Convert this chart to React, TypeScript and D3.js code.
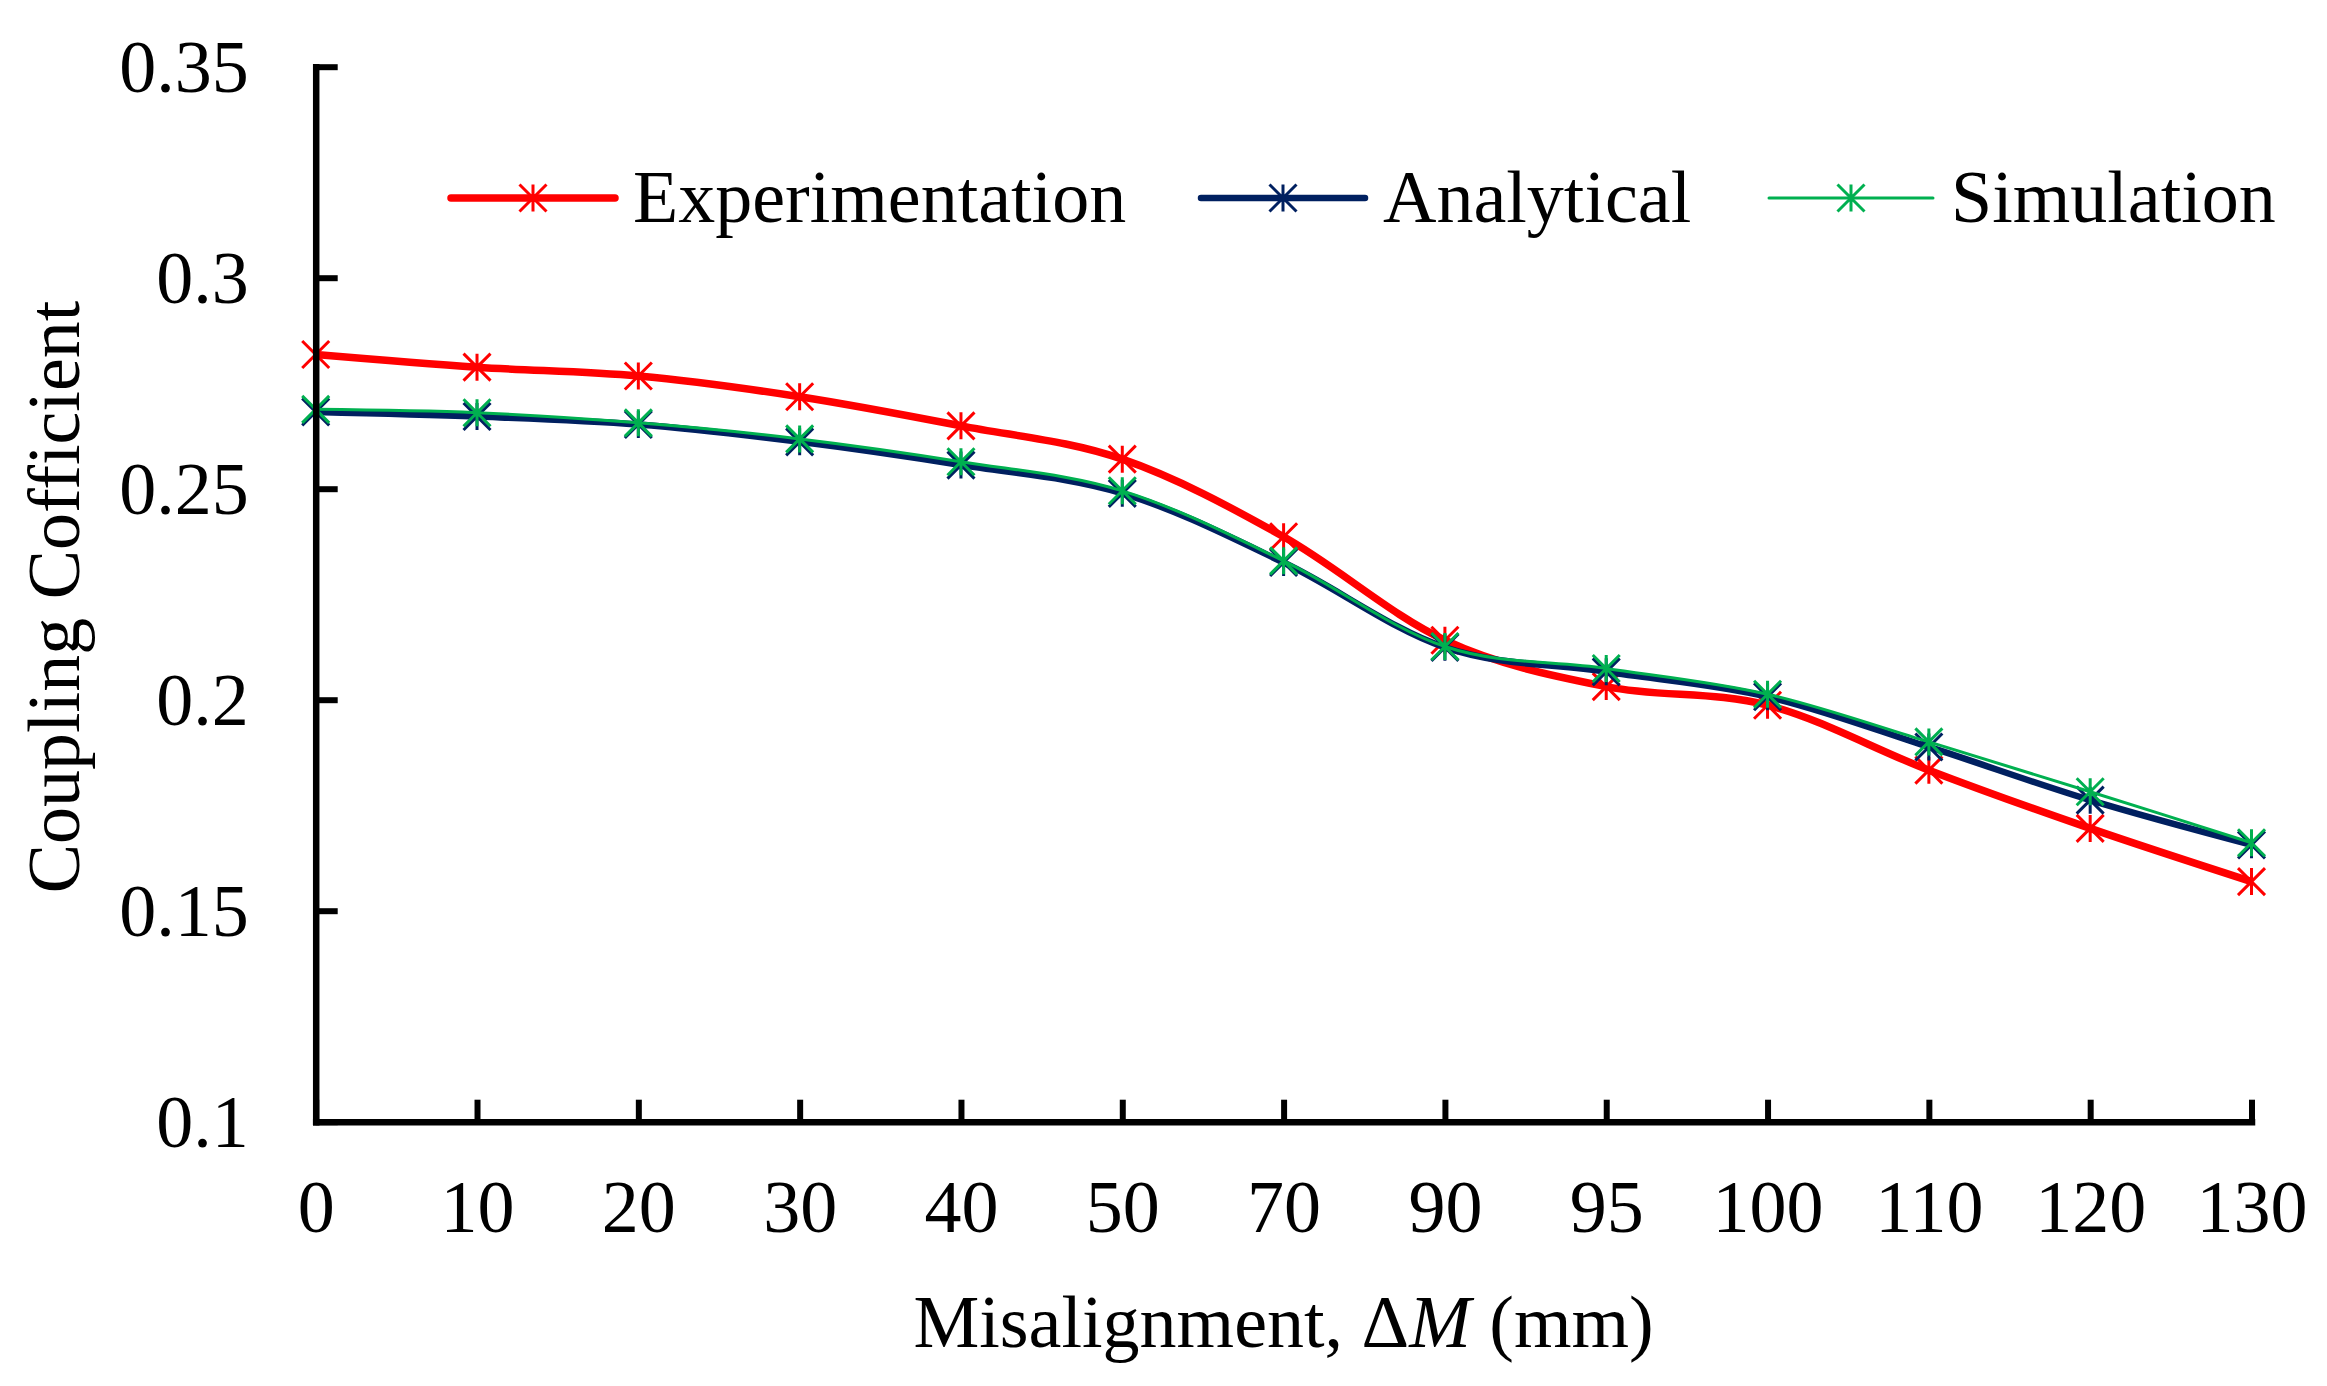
import { useEffect, useRef } from 'react'
import { axisBottom, axisLeft, curveCardinal, line, scaleLinear, scalePoint, select } from 'd3'

const categories = ['0', '10', '20', '30', '40', '50', '70', '90', '95', '100', '110', '120', '130']

const experimentation = [
  0.2818, 0.2788, 0.2767, 0.2718, 0.2649, 0.257, 0.2386, 0.2141, 0.2031, 0.1987, 0.1833, 0.1695, 0.1569,
]
const analytical = [
  0.2682, 0.2671, 0.2652, 0.2611, 0.2556, 0.2489, 0.2325, 0.2124, 0.2066, 0.2007, 0.1888, 0.1762, 0.1656,
]
const simulation = [
  0.2688, 0.268, 0.2656, 0.2618, 0.2564, 0.2495, 0.2329, 0.2126, 0.2074, 0.2013, 0.19, 0.1782, 0.1661,
]

const yTicks = [0.1, 0.15, 0.2, 0.25, 0.3, 0.35]
const yTickLabels = ['0.1', '0.15', '0.2', '0.25', '0.3', '0.35']

type Series = {
  name: string
  values: number[]
  color: string
  width: number
  legendX: number
}

const series: Series[] = [
  { name: 'Experimentation', values: experimentation, color: '#ff0000', width: 7.5, legendX: 451 },
  { name: 'Analytical', values: analytical, color: '#002060', width: 6.5, legendX: 1201 },
  { name: 'Simulation', values: simulation, color: '#00b050', width: 3, legendX: 1769 },
]

const width = 2327
const height = 1386
const font = '"Liberation Serif", "Times New Roman", serif'
const fontSize = 74
const markerHalf = 13.5

function Star({ x, y, color }: { x: number; y: number; color: string }) {
  const h = markerHalf
  return (
    <path
      d={`M${x},${y - h}V${y + h}M${x - h},${y - h}L${x + h},${y + h}M${x - h},${y + h}L${x + h},${y - h}`}
      stroke={color}
      strokeWidth={3}
      fill="none"
    />
  )
}

export default function App() {
  const xAxisRef = useRef<SVGGElement>(null)
  const yAxisRef = useRef<SVGGElement>(null)

  const xScale = scalePoint<string>().domain(categories).range([315.7, 2251.5])
  const yScale = scaleLinear().domain([0.1, 0.35]).range([1121.7, 66.7])

  const path = line<number>()
    .x((_, i) => xScale(categories[i]) ?? 0)
    .y((d) => yScale(d))
    .curve(curveCardinal.tension(0))

  useEffect(() => {
    if (!xAxisRef.current || !yAxisRef.current) return

    const xg = select(xAxisRef.current)
    xg.call(axisBottom(xScale).tickSizeInner(-22).tickSizeOuter(0).tickPadding(58))
    xg.select('.domain').attr('stroke-width', 6.5).attr('stroke-linecap', 'square')
    xg.selectAll('.tick line').attr('stroke-width', 6)
    xg.selectAll('.tick text')
      .attr('font-family', font)
      .attr('font-size', fontSize)
      .attr('fill', '#000')

    const yg = select(yAxisRef.current)
    yg.call(
      axisLeft(yScale)
        .tickValues(yTicks)
        .tickFormat((_, i) => yTickLabels[i])
        .tickSizeInner(-22)
        .tickSizeOuter(0)
        .tickPadding(67),
    )
    yg.select('.domain').attr('stroke-width', 6.5).attr('stroke-linecap', 'square')
    yg.selectAll('.tick line').attr('stroke-width', 6)
    yg.selectAll('.tick text')
      .attr('font-family', font)
      .attr('font-size', fontSize)
      .attr('fill', '#000')
      .attr('dy', '0.34em')
  }, [xScale, yScale])

  return (
    <svg
      width={width}
      height={height}
      viewBox={`0 0 ${width} ${height}`}
      style={{ position: 'absolute', left: 0, top: 0, background: '#fff' }}
    >
      <rect width={width} height={height} fill="#fff" />

      {series.map((s) => (
        <g key={s.name}>
          <path d={path(s.values) ?? ''} fill="none" stroke={s.color} strokeWidth={s.width} />
          {s.values.map((v, i) => (
            <Star key={i} x={xScale(categories[i]) ?? 0} y={yScale(v)} color={s.color} />
          ))}
        </g>
      ))}

      <g ref={xAxisRef} transform="translate(0, 1121.7)" />
      <g ref={yAxisRef} transform="translate(315.7, 0)" />

      {series.map((s) => (
        <g key={`legend-${s.name}`}>
          <line
            x1={s.legendX}
            x2={s.legendX + 164}
            y1={198}
            y2={198}
            stroke={s.color}
            strokeWidth={s.width}
            strokeLinecap="round"
          />
          <Star x={s.legendX + 82} y={198} color={s.color} />
          <text x={s.legendX + 182} y={222} fontFamily={font} fontSize={fontSize} fill="#000">
            {s.name}
          </text>
        </g>
      ))}

      <text
        x={1283.6}
        y={1347}
        textAnchor="middle"
        fontFamily={font}
        fontSize={fontSize}
        fill="#000"
      >
        Misalignment, Δ<tspan fontStyle="italic">M</tspan> (mm)
      </text>
      <text
        transform="translate(79, 597) rotate(-90)"
        textAnchor="middle"
        fontFamily={font}
        fontSize={fontSize}
        fill="#000"
      >
        Coupling Cofficient
      </text>
    </svg>
  )
}
